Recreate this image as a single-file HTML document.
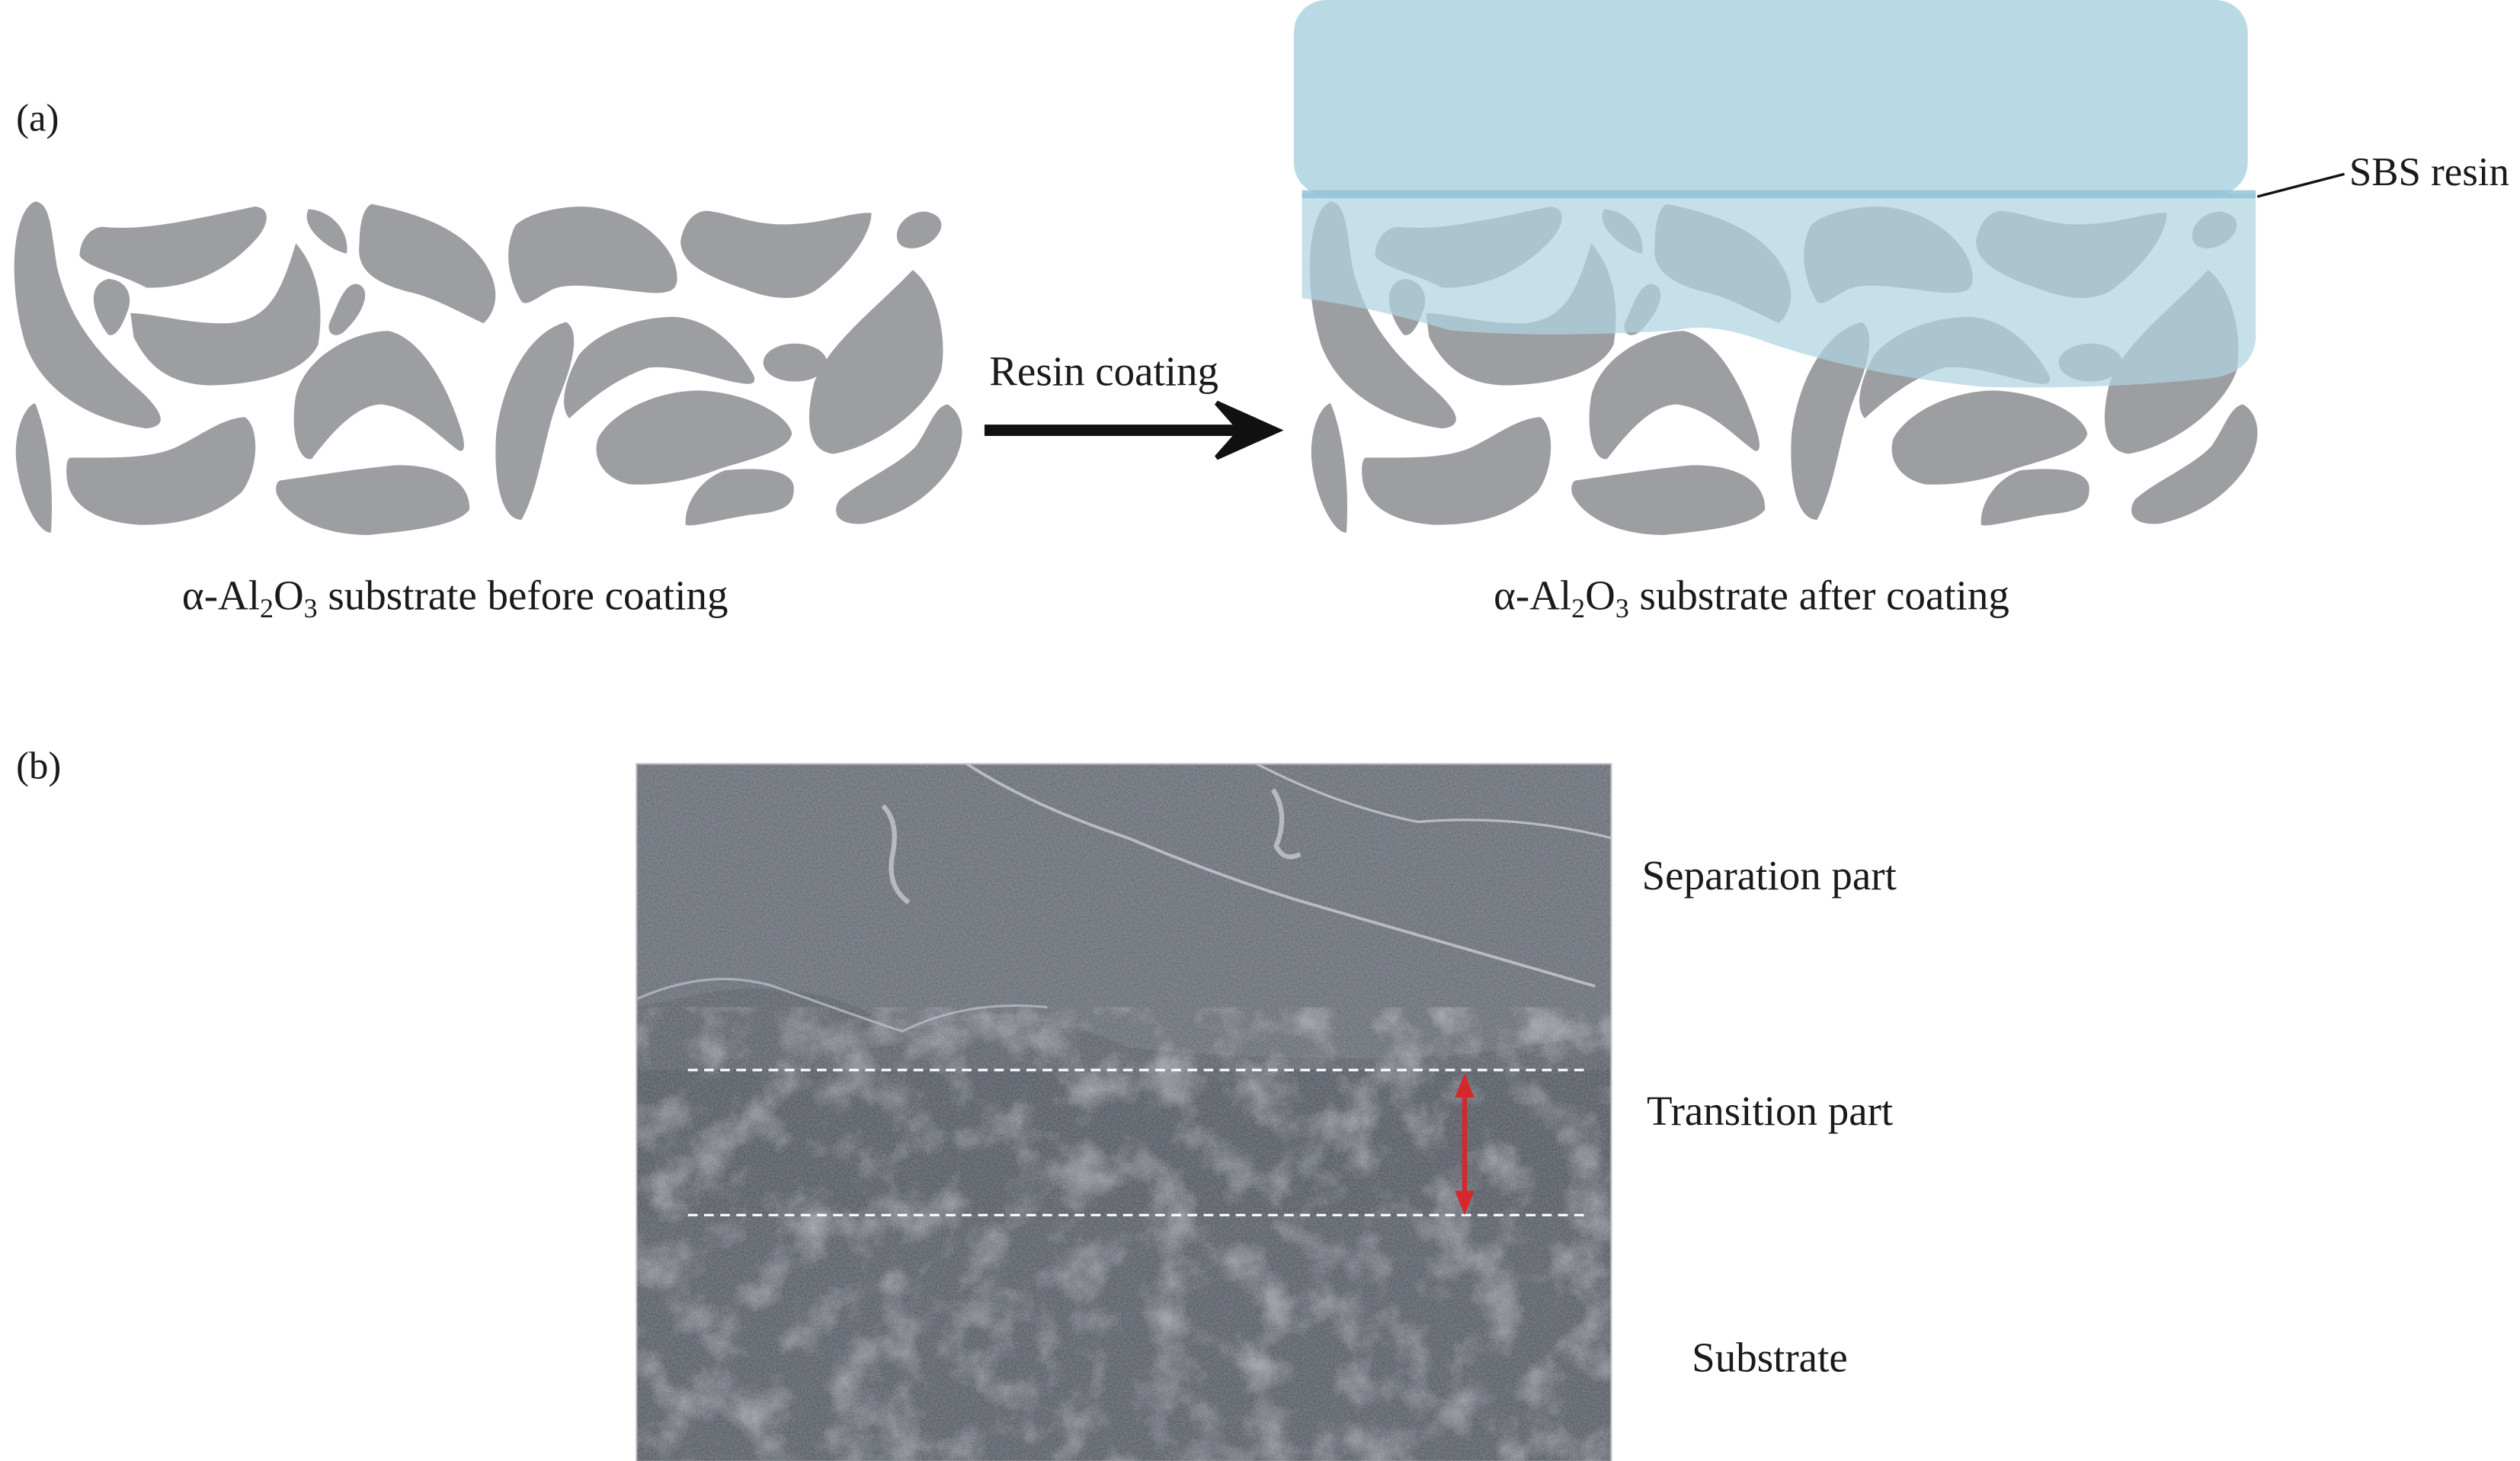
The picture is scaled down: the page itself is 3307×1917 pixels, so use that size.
<!DOCTYPE html>
<html><head><meta charset="utf-8"><style>
html,body{margin:0;padding:0;background:#fff;}
svg{display:block;}
text{font-family:"Liberation Serif",serif;fill:#1a1a1a;}
</style></head><body>
<svg width="3307" height="1917" viewBox="0 0 1564 906.6" xmlns="http://www.w3.org/2000/svg">
<defs>
<g id="parts" fill="#9d9ea2">
<path d="M55,185 C20,220 10,500 40,750 C70,950 150,1050 230,1080 C270,1070 250,1000 220,930 C150,780 110,650 90,450 C80,300 80,190 55,185Z"/>
<path d="M160,285 C220,300 280,270 400,205 C430,210 420,290 400,340 C360,450 300,530 230,525 C190,470 140,450 125,400 C125,340 140,290 160,285Z"/>
<path d="M170,490 C200,495 210,560 200,620 C190,690 180,720 170,710 C150,650 130,520 170,490Z"/>
<path d="M205,625 C250,630 300,670 360,665 C420,650 440,560 465,350 C500,450 510,600 500,750 C480,850 420,905 330,910 C260,905 230,820 210,720Z"/>
<path d="M485,215 C520,220 550,300 545,390 C520,380 470,290 485,215Z"/>
<path d="M560,510 C585,520 575,620 540,700 C525,730 510,700 520,650 C530,600 540,510 560,510Z"/>
<path d="M585,195 C650,230 720,280 760,420 C790,530 780,620 760,665 C720,620 680,560 640,540 C580,500 560,440 565,350 C565,250 575,200 585,195Z"/>
<path d="M915,205 C990,210 1050,330 1062,440 C1070,530 1060,550 1020,545 C960,530 900,500 870,530 C845,560 830,600 820,580 C800,500 790,380 810,280 C830,230 880,205 915,205Z"/>
<path d="M1110,222 C1150,230 1180,280 1240,275 C1300,270 1340,225 1370,230 C1370,320 1330,450 1280,540 C1250,580 1210,570 1170,530 C1100,470 1070,420 1070,340 C1075,270 1090,225 1110,222Z"/>
<path d="M1455,225 C1490,240 1485,310 1460,350 C1440,380 1410,380 1410,320 C1410,270 1430,225 1455,225Z"/>
<path d="M1435,455 C1470,520 1490,700 1480,850 C1460,1000 1380,1150 1310,1180 C1270,1170 1265,1050 1280,900 C1300,750 1380,600 1435,455Z"/>
<ellipse cx="1250" cy="820" rx="50" ry="75"/>
<path d="M1060,640 C1120,650 1160,760 1185,870 C1190,910 1180,910 1150,895 C1110,870 1060,830 1020,840 C970,880 930,960 895,1040 C880,1000 885,900 910,790 C940,700 1000,640 1060,640Z"/>
<path d="M890,660 C910,690 905,800 880,950 C855,1100 850,1300 820,1440 C790,1440 775,1300 780,1100 C790,900 830,700 890,660Z"/>
<path d="M610,695 C660,720 700,900 720,1050 C735,1150 730,1180 720,1165 C690,1110 650,1000 600,985 C560,985 520,1100 490,1200 C470,1210 455,1100 465,950 C480,800 550,700 610,695Z"/>
<path d="M1100,930 C1180,940 1240,1030 1245,1100 C1240,1170 1180,1200 1130,1240 C1080,1290 1030,1305 990,1300 C950,1280 930,1200 940,1120 C960,1020 1030,930 1100,930Z"/>
<path d="M55,980 C75,1100 85,1300 80,1490 C60,1495 30,1350 25,1200 C22,1080 40,990 55,980Z"/>
<path d="M110,1195 C180,1195 240,1200 280,1150 C320,1100 350,1040 385,1035 C410,1080 405,1250 380,1330 C340,1420 290,1460 220,1460 C150,1450 110,1380 105,1280 C103,1230 105,1200 110,1195Z"/>
<path d="M440,1285 C510,1260 560,1240 620,1225 C700,1220 740,1300 738,1400 C720,1460 660,1480 580,1500 C500,1500 450,1420 435,1340 C432,1310 435,1290 440,1285Z"/>
<path d="M1140,1245 C1200,1230 1250,1245 1248,1320 C1248,1400 1220,1410 1180,1420 C1130,1440 1090,1470 1078,1460 C1075,1380 1100,1280 1140,1245Z"/>
<path d="M1490,985 C1520,1030 1520,1150 1490,1250 C1460,1350 1420,1420 1360,1455 C1320,1465 1305,1420 1320,1360 C1350,1290 1410,1230 1440,1150 C1460,1080 1470,990 1490,985Z"/>
</g>
<filter id="noise" x="0" y="0" width="100%" height="100%">
<feTurbulence type="fractalNoise" baseFrequency="0.9" numOctaves="2" seed="3" result="n"/>
<feColorMatrix type="matrix" values="0 0 0 0 1  0 0 0 0 1  0 0 0 0 1  0 0 0 0.3 -0.05" in="n"/>
</filter>
<filter id="rough" x="0" y="0" width="100%" height="100%">
<feTurbulence type="fractalNoise" baseFrequency="0.035" numOctaves="4" seed="7" result="t"/>
<feColorMatrix type="matrix" values="0 0 0 0 0.8  0 0 0 0 0.82  0 0 0 0 0.87  0 0 0 1.6 -0.72" in="t"/>
</filter>
<clipPath id="semclip"><rect x="395" y="474" width="605" height="433"/></clipPath>
</defs>

<text x="10" y="81" font-size="24">(a)</text>
<text x="10" y="483" font-size="24">(b)</text>

<g transform="translate(0.08,95.9) scale(0.3947,0.1574)"><use href="#parts"/></g>
<g transform="translate(804.08,95.9) scale(0.3947,0.1574)"><use href="#parts"/></g>

<rect x="803" y="0" width="592" height="121" rx="20" fill="#b5d8e3" opacity="0.95"/>
<path d="M808,120 L1400,120 L1400,210 Q1398,232 1370,235 Q1300,242 1230,240 Q1150,232 1090,210 Q1060,200 1040,205 Q960,210 900,205 Q850,190 808,185 Z" fill="#aed4e0" opacity="0.72"/>
<rect x="808" y="118" width="592" height="5" fill="#8fc2d4" opacity="0.8"/>
<line x1="1401" y1="122" x2="1455" y2="108" stroke="#111" stroke-width="1.6"/>
<text x="1458" y="115" font-size="25">SBS resin</text>

<text x="614" y="239" font-size="26">Resin coating</text>
<line x1="611" y1="267" x2="775" y2="267" stroke="#111" stroke-width="7"/>
<path d="M755,250 L793,267 L755,284 L770,267 Z" fill="#111" stroke="#111" stroke-width="3"/>

<text x="113" y="378" font-size="26">α-Al<tspan font-size="17" dy="5">2</tspan><tspan dy="-5">O</tspan><tspan font-size="17" dy="5">3</tspan><tspan dy="-5"> substrate before coating</tspan></text>
<text x="927" y="378" font-size="26">α-Al<tspan font-size="17" dy="5">2</tspan><tspan dy="-5">O</tspan><tspan font-size="17" dy="5">3</tspan><tspan dy="-5"> substrate after coating</tspan></text>

<g clip-path="url(#semclip)">
<rect x="395" y="474" width="605" height="433" fill="#5f636b"/>
<path d="M395,474 L1000,474 L1000,640 Q950,650 900,655 Q800,660 700,650 Q640,620 560,640 Q500,600 420,620 L395,625 Z" fill="#6a6e76"/>
<rect x="395" y="664" width="605" height="90" fill="#575b63"/>
<rect x="395" y="754" width="605" height="153" fill="#5b5f67"/>
<rect x="395" y="625" width="605" height="282" filter="url(#rough)" opacity="0.6"/>
<rect x="395" y="474" width="605" height="433" filter="url(#noise)"/>
<path d="M600,474 Q640,500 700,520 Q760,545 810,560 Q880,580 990,612" stroke="#c9ccd3" stroke-width="1.8" fill="none" opacity="0.8"/>
<path d="M780,474 Q830,500 880,510 Q940,505 1000,520" stroke="#c9ccd3" stroke-width="1.5" fill="none" opacity="0.8"/>
<path d="M395,620 Q440,600 480,612 Q530,630 560,640 Q600,620 650,625" stroke="#b8bcc4" stroke-width="1.5" fill="none" opacity="0.8"/>
<path d="M548,500 q10,10 6,30 q-4,20 10,30" stroke="#d0d3d9" stroke-width="3" fill="none" opacity="0.7"/>
<path d="M790,490 q10,15 2,35 q5,10 15,5" stroke="#d0d3d9" stroke-width="3" fill="none" opacity="0.7"/>
</g>
<rect x="395" y="474" width="605" height="433" fill="none" stroke="#bfc2c6" stroke-width="1"/>
<line x1="427" y1="664" x2="985" y2="664" stroke="#fff" stroke-width="1.5" stroke-dasharray="6,4"/>
<line x1="427" y1="754" x2="985" y2="754" stroke="#fff" stroke-width="1.5" stroke-dasharray="6,4"/>
<line x1="909" y1="676" x2="909" y2="744" stroke="#d4282b" stroke-width="3"/>
<path d="M903,681 L909,666 L915,681 Z" fill="#d4282b"/>
<path d="M903,739 L909,754 L915,739 Z" fill="#d4282b"/>

<text x="1019" y="552" font-size="26">Separation part</text>
<text x="1022" y="698" font-size="26">Transition part</text>
<text x="1050" y="851" font-size="26">Substrate</text>
</svg>
</body></html>
